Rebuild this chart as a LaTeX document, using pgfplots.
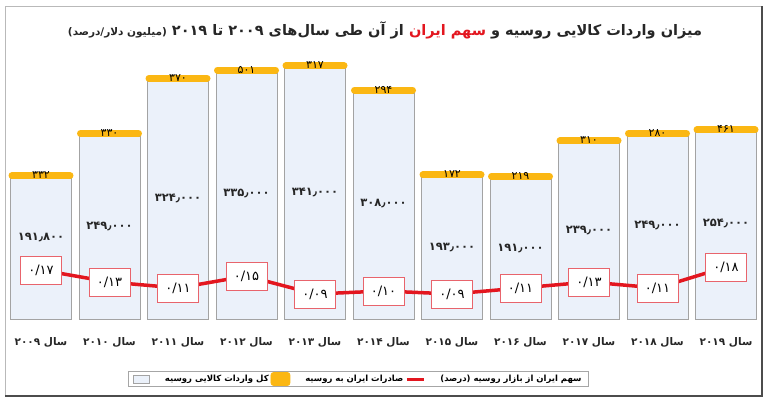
\documentclass[border=0pt]{standalone}
\usepackage{fontspec}
\usepackage{pgfplots}
\usepackage{pgfplotstable}
\pgfplotsset{compat=1.18}
\TeXXeTstate=1
\newfontfamily\arabicfont[Script=Arabic]{DejaVu Sans}

\definecolor{barfill}{HTML}{EBF1FA}
\definecolor{bardraw}{HTML}{A3A3A3}
\definecolor{capyellow}{HTML}{FBB713}
\definecolor{sharered}{HTML}{E3161F}
\definecolor{boxred}{HTML}{E8646C}

% yellow cap sitting on top of each bar
\pgfdeclareplotmark{cap}{%
  \pgfsetroundcap
  \pgfsetlinewidth{7pt}%
  \pgfpathmoveto{\pgfqpoint{-29pt}{3pt}}%
  \pgfpathlineto{\pgfqpoint{29pt}{3pt}}%
  \pgfusepathqstroke}

% elab: Iran's exports (yellow caps), slab: Iran's share (boxes)
\pgfplotstableread{
x total  share elab slab
0 191800 0.17 ۳۳۲ ۰/۱۷
1 249000 0.13 ۳۳۰ ۰/۱۳
2 324000 0.11 ۳۷۰ ۰/۱۱
3 335000 0.15 ۵۰۱ ۰/۱۵
4 341000 0.09 ۳۱۷ ۰/۰۹
5 308000 0.10 ۲۹۴ ۰/۱۰
6 193000 0.09 ۱۷۲ ۰/۰۹
7 191000 0.11 ۲۱۹ ۰/۱۱
8 239000 0.13 ۳۱۰ ۰/۱۳
9 249000 0.11 ۲۸۰ ۰/۱۱
10 254000 0.18 ۴۶۱ ۰/۱۸
}\rusdata

\begin{document}
\begin{tikzpicture}
\useasboundingbox (0pt,0pt) rectangle (768pt,404pt);
\fill[white] (0pt,0pt) rectangle (768pt,404pt);
% outer frame
\draw[gray!55, line width=0.8pt] (5pt,8pt) rectangle (762pt,398pt);
\draw[black!70, line width=1.6pt] (5pt,8pt) -- (762pt,8pt) -- (762pt,398pt);

\begin{axis}[
    at={(6.75pt,84pt)}, anchor=south west,
    scale only axis, width=753.5pt, height=280pt,
    xmin=-0.5, xmax=10.5, ymin=0, ymax=380000,
    axis line style={draw=none}, tick style={draw=none},
    ytick=\empty,
    xtick={0,...,10},
    xticklabels={
      {\beginR سال \beginL۲۰۰۹\endL\endR},
      {\beginR سال \beginL۲۰۱۰\endL\endR},
      {\beginR سال \beginL۲۰۱۱\endL\endR},
      {\beginR سال \beginL۲۰۱۲\endL\endR},
      {\beginR سال \beginL۲۰۱۳\endL\endR},
      {\beginR سال \beginL۲۰۱۴\endL\endR},
      {\beginR سال \beginL۲۰۱۵\endL\endR},
      {\beginR سال \beginL۲۰۱۶\endL\endR},
      {\beginR سال \beginL۲۰۱۷\endL\endR},
      {\beginR سال \beginL۲۰۱۸\endL\endR},
      {\beginR سال \beginL۲۰۱۹\endL\endR}},
    xticklabel style={anchor=center, yshift=-22pt, text=black!85,
      font=\arabicfont\bfseries\fontsize{10.5}{10.5}\selectfont},
    legend columns=3,
    legend style={at={(0.4668,-0.2107)}, anchor=center,
      draw=gray!70, line width=0.6pt,
      inner xsep=5pt, inner ysep=1pt,
      font=\arabicfont\bfseries\fontsize{8.5}{8.5}\selectfont,
      /tikz/every even column/.append style={column sep=0pt},
      /tikz/every odd column/.append style={column sep=13pt}},
    clip=false,
]
\addplot[ybar, bar width=61pt, fill=barfill, draw=bardraw, line width=1pt,
    legend image code/.code={\draw[fill=barfill, draw=bardraw, line width=0.6pt]
      (0pt,-4pt) rectangle (16pt,4pt);}]
    table[x=x, y=total] {\rusdata};
\addlegendentry{\beginR کل واردات کالایی روسیه\endR}

\addplot[only marks, mark=cap, mark options={draw=capyellow},
    point meta=explicit symbolic, nodes near coords,
    nodes near coords style={anchor=center, yshift=3.5pt, text=black,
      font=\arabicfont\fontsize{11}{11}\selectfont},
    legend image code/.code={\fill[capyellow, rounded corners=2.5pt]
      (0pt,-6pt) rectangle (19pt,7pt);}]
    table[x=x, y=total, meta=elab] {\rusdata};
\addlegendentry{\beginR صادرات ایران به روسیه\endR}

\addlegendimage{line legend, sharered, line width=3pt}
\addlegendentry{\beginR سهم ایران از بازار روسیه (درصد)\endR}

% total imports, written inside the bars
\begin{scope}[every node/.style={font=\arabicfont\bfseries\fontsize{11.5}{11.5}\selectfont, text=black!85}]
\node at (axis cs:0,112600) {۱۹۱٫۸۰۰};
\node at (axis cs:1,127500) {۲۴۹٫۰۰۰};
\node at (axis cs:2,165500) {۳۲۴٫۰۰۰};
\node at (axis cs:3,172000) {۳۳۵٫۰۰۰};
\node at (axis cs:4,173700) {۳۴۱٫۰۰۰};
\node at (axis cs:5,158700) {۳۰۸٫۰۰۰};
\node at (axis cs:6,99000) {۱۹۳٫۰۰۰};
\node at (axis cs:7,97700) {۱۹۱٫۰۰۰};
\node at (axis cs:8,122000) {۲۳۹٫۰۰۰};
\node at (axis cs:9,129000) {۲۴۹٫۰۰۰};
\node at (axis cs:10,131600) {۲۵۴٫۰۰۰};
\end{scope}
\end{axis}

\begin{axis}[
    at={(6.75pt,84pt)}, anchor=south west,
    scale only axis, width=753.5pt, height=280pt,
    xmin=-0.5, xmax=10.5, ymin=0.003333, ymax=0.936667,
    hide axis, clip=false,
]
\addplot[sharered, line width=3.5pt, mark=none,
    point meta=explicit symbolic, nodes near coords,
    nodes near coords style={anchor=center, draw=boxred, fill=white,
      line width=0.8pt, minimum width=41pt, minimum height=28pt,
      inner sep=0pt, text=black,
      font=\arabicfont\fontsize{13}{13}\selectfont}]
    table[x=x, y=share, meta=slab] {\rusdata};
\end{axis}

% title: three right-to-left pieces set side by side in visual order
\node[font=\arabicfont\bfseries\fontsize{14.5}{14.5}\selectfont, text=black!85] at (385pt,374pt)
  {\hbox{\beginR از آن طی سال‌های \beginL۲۰۰۹\endL{} تا \beginL۲۰۱۹\endL{} {\fontsize{10.5}{10.5}\selectfont(میلیون دلار/درصد)}\endR}%
   \space\hbox{\textcolor{sharered}{\beginR سهم ایران\endR}}%
   \space\hbox{\beginR میزان واردات کالایی روسیه و\endR}};
\end{tikzpicture}
\end{document}
